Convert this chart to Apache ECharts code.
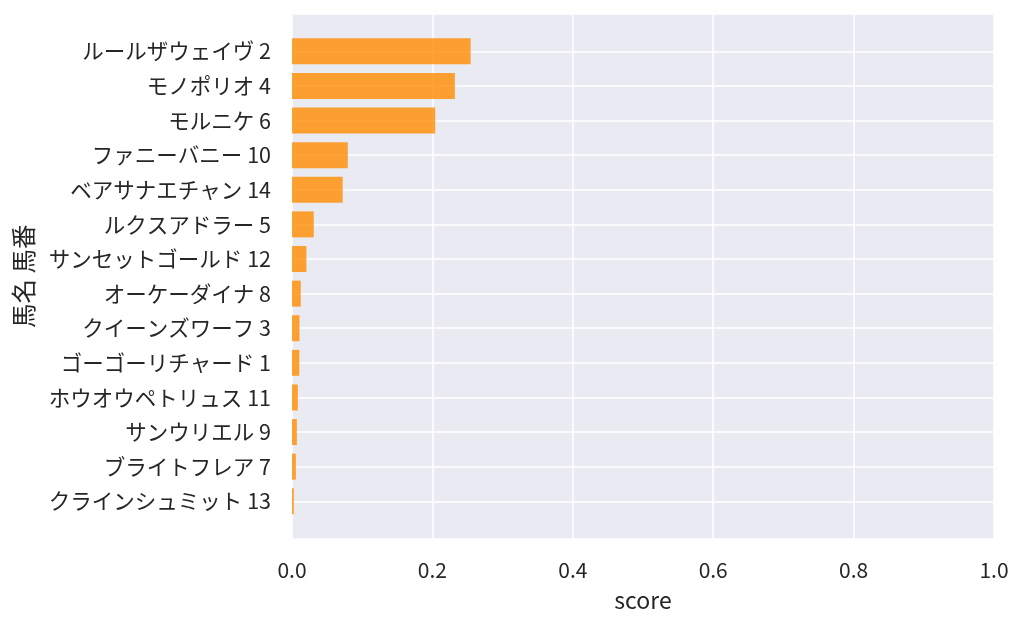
<!DOCTYPE html>
<html>
<head>
<meta charset="utf-8">
<script src="https://cdn.jsdelivr.net/npm/echarts@6/dist/echarts.min.js"></script>
<style>html,body{margin:0;padding:0;background:#fff}#c{width:1024px;height:627px}</style>
</head>
<body>
<div id="c"></div>
<script>
const categories = ['ルールザウェイヴ 2','モノポリオ 4','モルニケ 6','ファニーバニー 10','ベアサナエチャン 14','ルクスアドラー 5','サンセットゴールド 12','オーケーダイナ 8','クイーンズワーフ 3','ゴーゴーリチャード 1','ホウオウペトリュス 11','サンウリエル 9','ブライトフレア 7','クラインシュミット 13'];
const scores = [0.2545, 0.2320, 0.2040, 0.0795, 0.0722, 0.0310, 0.0205, 0.0125, 0.0106, 0.0104, 0.0083, 0.0069, 0.0055, 0.0026];
const xTicks = [0, 0.2, 0.4, 0.6, 0.8, 1.0];
const xName = 'score';
const yName = '馬名 馬番';

const FONT = '"Noto Sans CJK JP", "Noto Sans", sans-serif';
const TXT = '#262626';
const chart = echarts.init(document.getElementById('c'), null, {renderer: 'canvas'});
chart.setOption({
  backgroundColor: '#ffffff',
  animation: false,
  textStyle: {fontFamily: FONT},
  grid: [
    {left: 292, right: 30, top: 14.7, bottom: 88.7, backgroundColor: '#eaeaf2', show: true, borderWidth: 0},
    {left: 292, right: 30, top: 34, bottom: 108.4, show: false}
  ],
  xAxis: [
    {gridIndex: 0, type: 'value', min: xTicks[0], max: xTicks[xTicks.length-1], interval: 0.2,
     name: xName, nameLocation: 'middle', nameGap: 50,
     nameTextStyle: {fontSize: 23, color: TXT, fontFamily: FONT},
     axisLine: {show: false}, axisTick: {show: false},
     axisLabel: {fontSize: 21, color: TXT, margin: 21, fontFamily: FONT, formatter: v => v.toFixed(1)},
     splitLine: {show: true, lineStyle: {color: '#ffffff', width: 1.5}}},
    {gridIndex: 1, type: 'value', min: xTicks[0], max: xTicks[xTicks.length-1], show: false}
  ],
  yAxis: [
    {gridIndex: 0, type: 'value', show: false},
    {gridIndex: 1, type: 'category', data: categories, inverse: true,
     name: yName, nameLocation: 'middle', nameGap: 256,
     nameTextStyle: {fontSize: 24.5, color: TXT, fontFamily: FONT},
     axisLine: {show: false}, axisTick: {show: false, alignWithLabel: true},
     axisLabel: {fontSize: 21.5, color: TXT, margin: 21, fontFamily: FONT},
     splitLine: {show: true, alignWithLabel: true, lineStyle: {color: '#ffffff', width: 1.5}}}
  ],
  series: [{
    type: 'bar', xAxisIndex: 1, yAxisIndex: 1, data: scores, barWidth: '75%',
    itemStyle: {color: 'rgba(255,140,0,0.8)'},
    z: 3
  }]
});
</script>
</body>
</html>
